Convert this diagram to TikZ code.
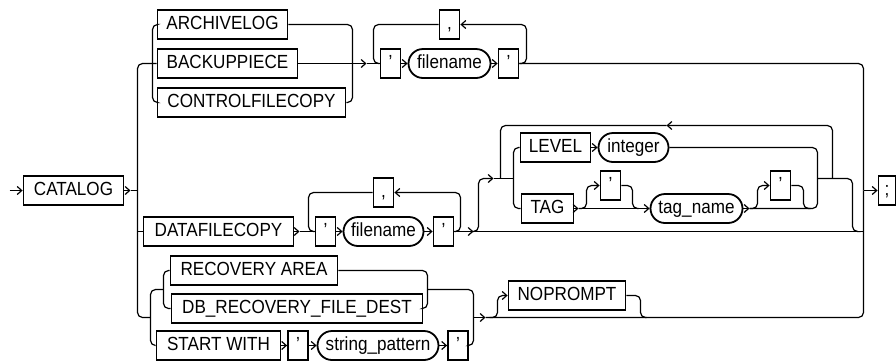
\documentclass[tikz,border=0pt]{standalone}
\usepackage{fontspec}
\setmainfont{Liberation Sans}[FakeStretch=0.9]
\usetikzlibrary{arrows.meta,shapes.misc}

\begin{document}
\begin{tikzpicture}[
    x=1bp, y=-1bp,
    kw/.style={draw, line width=1.8bp, rectangle, minimum height=29bp, inner xsep=0pt,
               font=\fontsize{19bp}{22bp}\selectfont, text height=13.5bp, text depth=3bp},
    var/.style={kw, rounded rectangle},
    rr/.style={line width=1.2bp, rounded corners=5bp},
    >={Straight Barb[length=4.5bp,width=8bp]}
]
\useasboundingbox (-0.5,-0.5) rectangle (895.5,359.5);

\node[kw, minimum width=100bp] (catalog) at (73,190) {CATALOG};
\node[kw, minimum width=130bp] (archivelog) at (222,24) {ARCHIVELOG};
\node[kw, minimum width=140bp] (backuppiece) at (227,63) {BACKUPPIECE};
\node[kw, minimum width=188bp] (controlfilecopy) at (251,102) {CONTROLFILECOPY};
\node[kw, minimum width=20bp] (q1) at (390,63) {’};
\node[var, minimum width=82bp] (fn1) at (449,63) {filename};
\node[kw, minimum width=20bp] (q2) at (508,63) {’};
\node[kw, minimum width=20bp] (comma1) at (449,24) {,};
\node[kw, minimum width=150bp] (datafilecopy) at (218,231) {DATAFILECOPY};
\node[kw, minimum width=20bp] (q3) at (325,231) {’};
\node[var, minimum width=80bp] (fn2) at (383,231) {filename};
\node[kw, minimum width=20bp] (q4) at (443,231) {’};
\node[kw, minimum width=20bp] (comma2) at (383,192) {,};
\node[kw, minimum width=70bp] (level) at (555,147) {LEVEL};
\node[var, minimum width=70bp] (integer) at (633,147) {integer};
\node[kw, minimum width=52bp] (tag) at (547,208) {TAG};
\node[kw, minimum width=20bp] (q5) at (610,185) {’};
\node[var, minimum width=92bp] (tagname) at (696,208) {tag\_name};
\node[kw, minimum width=20bp] (q6) at (780,185) {’};
\node[kw, minimum width=167bp] (recarea) at (253.5,270) {RECOVERY AREA};
\node[kw, minimum width=251bp] (dbrec) at (296.5,308) {DB\_RECOVERY\_FILE\_DEST};
\node[kw, minimum width=124bp] (startwith) at (218,345) {START WITH};
\node[kw, minimum width=20bp] (q7) at (297.5,345) {’};
\node[var, minimum width=121bp] (strpat) at (377.5,345) {string\_pattern};
\node[kw, minimum width=20bp] (q8) at (457.5,345) {’};
\node[kw, minimum width=117bp] (noprompt) at (566.5,295) {NOPROMPT};
\node[kw, minimum width=17bp] (semi) at (886.5,190) {;};

\coordinate (start) at (9,190);
\coordinate (j1) at (137,190);
\coordinate (m1) at (863,190);

\draw[rr,->] (start) -- (catalog.west);
\draw[rr,->] (catalog.east) -- (130,190);
\draw[rr] (130,190) -- (j1);
\draw[rr] (j1) |- (backuppiece.west);
\draw[rr] (j1) |- (150,317);
\draw[rr] (137,231) -- (datafilecopy.west);

\draw[rr] (archivelog.west) -| (152,63) |- (controlfilecopy.west);
\draw[rr] (archivelog.east) -| (352,63) |- (controlfilecopy.east);
\draw[rr,->] (backuppiece.east) -- (366,63);
\draw[rr] (366,63) -- (q1.west);
\draw[rr,->] (q1.east) -- (fn1.west);
\draw[rr,->] (fn1.east) -- (q2.west);
\draw[rr,->] (q2.east) -| (526,24) -- (comma1.east);
\draw[rr] (comma1.west) -| (373,63) -- (q1.west);
\draw[rr] (q2.east) -| (m1);

\draw[rr,->] (datafilecopy.east) -- (299,231);
\draw[rr] (299,231) -- (q3.west);
\draw[rr,->] (q3.east) -- (fn2.west);
\draw[rr,->] (fn2.east) -- (q4.west);
\draw[rr,->] (q4.east) -| (460,192) -- (comma2.east);
\draw[rr] (comma2.west) -| (308,231) -- (q3.west);
\draw[rr,->] (q4.east) -- (473,231);
\draw[rr] (473,231) -- (863,231);

\draw[rr,->] (470,231) -| (478,178) -- (493,178);
\draw[rr] (493,178) -- (513,178);
\draw[rr] (level.west) -| (513,178) |- (tag.west);
\draw[rr,->] (level.east) -- (integer.west);
\draw[rr] (integer.east) -| (817,178) |- (749,208);
\draw[rr] (817,178) -| (852,231) -- (857,231);
\draw[rr,->] (832,178) |- (666,125);
\draw[rr] (666,125) -| (500,178);

\draw[rr,->] (tag.east) -- (578,208);
\draw[rr] (578,208) -- (640,208);
\draw[rr,->] (578,208) -| (586,185) -- (q5.west);
\draw[rr] (q5.east) -| (632,208) -- (638,208);
\draw[rr,->] (640,208) -- (tagname.west);
\draw[rr,->] (tagname.east) -- (749,208);
\draw[rr,->] (749,208) -| (757,185) -- (q6.west);
\draw[rr] (q6.east) -| (803,208) -- (810,208);

\draw[rr] (recarea.west) -| (163,289) |- (dbrec.west);
\draw[rr] (163,289) -| (150,317) |- (startwith.west);
\draw[rr,->] (startwith.east) -- (q7.west);
\draw[rr,->] (q7.east) -- (strpat.west);
\draw[rr,->] (strpat.east) -- (q8.west);
\draw[rr] (recarea.east) -| (427,289) |- (dbrec.east);
\draw[rr] (427,289) -| (473,317) |- (q8.east);
\draw[rr,->] (473,317) -- (485,317);
\draw[rr] (485,317) -| (m1);
\draw[rr,->] (489,317) -| (497,295) -- (noprompt.west);
\draw[rr] (noprompt.east) -| (640,317) -- (646,317);

\draw[rr,->] (m1) -- (semi.west);
\end{tikzpicture}
\end{document}
